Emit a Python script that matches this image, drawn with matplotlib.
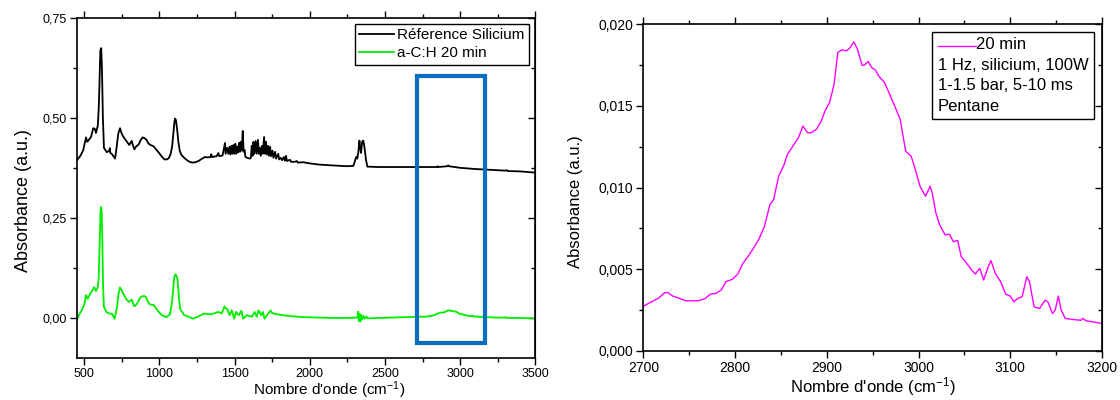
import matplotlib
matplotlib.use("Agg")
import matplotlib.pyplot as plt
import numpy as np
from matplotlib.patches import Rectangle
from matplotlib.lines import Line2D
from matplotlib.offsetbox import AnchoredOffsetbox, VPacker, HPacker, TextArea, DrawingArea
from matplotlib.ticker import MultipleLocator

plt.rcParams['font.family'] = ['Liberation Sans', 'DejaVu Sans']
plt.rcParams['mathtext.default'] = 'regular'

# ---------------- data ----------------
# Reference silicium spectrum (black)
black_x = [452, 476, 493, 512, 520, 527, 545, 560, 571, 578, 590, 596, 601, 607, 613, 618, 624, 631,
           650, 667, 670, 673, 683, 705, 715, 726, 738, 745, 752, 761, 780, 800, 812, 816, 825, 833,
           845, 863, 875, 888, 902, 916, 926, 940, 960, 985, 1000, 1018, 1034, 1049, 1062, 1075,
           1085, 1094, 1100, 1104, 1110, 1118, 1126, 1135, 1145, 1159, 1180, 1200, 1221, 1240,
           1260, 1280, 1303, 1320,
           1340, 1345, 1350, 1380, 1392, 1398, 1420, 1436, 1440, 1450, 1458, 1466, 1472, 1480, 1486,
           1492, 1498, 1505, 1510, 1515, 1522, 1530, 1536, 1542, 1548, 1554, 1560, 1566, 1572, 1585,
           1600, 1608, 1614, 1620, 1625, 1632, 1640, 1647, 1655, 1662, 1668, 1674, 1682, 1688, 1696,
           1702, 1708, 1714, 1722, 1728, 1736, 1742, 1752, 1758, 1769, 1776, 1790, 1796, 1807, 1815,
           1828, 1834, 1842, 1848, 1868, 1875, 1900, 1913, 1920, 1957, 2000, 2064,
           2150, 2250, 2290, 2308, 2316, 2323, 2330, 2335, 2341, 2348, 2356, 2364, 2374, 2383,
           2450, 2600, 2800, 2845, 2850, 2855, 2915, 2920, 2925, 3000, 3100, 3200, 3300, 3310,
           3315, 3400, 3500]
black_y = [0.394, 0.406, 0.419, 0.451, 0.440, 0.443, 0.452, 0.474, 0.472, 0.462, 0.480, 0.520,
           0.580, 0.668, 0.674, 0.620, 0.500, 0.425, 0.414, 0.418, 0.424, 0.412, 0.410, 0.398,
           0.425, 0.460, 0.474, 0.465, 0.458, 0.452, 0.442, 0.432, 0.440, 0.442, 0.430, 0.421,
           0.428, 0.434, 0.444, 0.451, 0.449, 0.444, 0.436, 0.432, 0.429, 0.418, 0.411, 0.402,
           0.396, 0.396, 0.399, 0.410, 0.430, 0.465, 0.490, 0.498, 0.494, 0.470, 0.440, 0.418,
           0.408, 0.402, 0.395, 0.390, 0.388, 0.389, 0.392, 0.397, 0.402, 0.401,
           0.402, 0.409, 0.402, 0.404, 0.412, 0.404, 0.406, 0.437, 0.410, 0.425, 0.410, 0.428,
           0.408, 0.430, 0.410, 0.432, 0.410, 0.435, 0.410, 0.428, 0.413, 0.438, 0.415, 0.440,
           0.418, 0.467, 0.415, 0.420, 0.402, 0.400, 0.398, 0.400, 0.430, 0.405, 0.440, 0.410,
           0.442, 0.410, 0.445, 0.410, 0.425, 0.405, 0.430, 0.410, 0.452, 0.410, 0.440, 0.408,
           0.430, 0.405, 0.428, 0.404, 0.418, 0.400, 0.415, 0.398, 0.410, 0.396, 0.400, 0.394,
           0.402, 0.393, 0.405, 0.392, 0.395, 0.390, 0.390, 0.392, 0.388, 0.389, 0.386, 0.383,
           0.381, 0.379, 0.380, 0.402, 0.398, 0.415, 0.443, 0.425, 0.412, 0.440, 0.443, 0.425,
           0.394, 0.378, 0.377, 0.377, 0.377, 0.377, 0.379, 0.377, 0.379, 0.381, 0.379, 0.375,
           0.372, 0.370, 0.368, 0.369, 0.367, 0.366, 0.363]

# a-C:H 20 min spectrum (green), low wavenumber part
green_x_low = [452, 464, 483, 500, 512, 524, 540, 555, 566, 578, 590, 596, 602, 608, 612, 616, 620,
               625, 631, 647, 666, 683, 702, 718, 728, 737, 745, 754, 778, 797, 816, 832, 848, 863,
               875, 887, 900, 911, 925, 935, 963, 987, 1015, 1046, 1070, 1082, 1089, 1098, 1106,
               1113, 1120, 1128, 1137, 1165, 1201, 1224, 1260, 1296, 1343, 1367,
               1391, 1414, 1433, 1440, 1450, 1467, 1481, 1497, 1509, 1528, 1545, 1557, 1581, 1616,
               1633, 1647, 1659, 1676, 1688, 1699, 1723, 1740, 1745, 1759, 1783, 1818, 1889, 1961,
               2050, 2150, 2250, 2310, 2317, 2322, 2326, 2331, 2336, 2341, 2347, 2356, 2365, 2375,
               2385, 2450, 2550, 2650]
green_y_low = [-0.005, 0.007, 0.019, 0.034, 0.057, 0.048, 0.061, 0.069, 0.077, 0.067, 0.077, 0.100,
               0.177, 0.265, 0.277, 0.265, 0.200, 0.080, 0.028, 0.015, 0.011, 0.011, -0.002, 0.028,
               0.060, 0.076, 0.072, 0.065, 0.048, 0.040, 0.046, 0.029, 0.034, 0.044, 0.052, 0.054,
               0.055, 0.052, 0.040, 0.034, 0.032, 0.019, 0.007, 0.002, 0.009, 0.035, 0.061, 0.100,
               0.109, 0.105, 0.098, 0.060, 0.023, 0.007, 0.002, -0.002, 0.004, 0.011, 0.009, 0.012,
               0.015, 0.011, 0.029, 0.024, 0.023, 0.007, 0.019, -0.002, 0.015, 0.007, 0.018, -0.002,
               0.007, 0.003, 0.015, 0.003, 0.019, 0.007, 0.015, -0.002, 0.011, 0.019, 0.014, 0.011,
               0.009, 0.007, 0.004, 0.002, 0.001, 0.000, 0.000, 0.001, 0.001, 0.016, -0.008, 0.010,
               -0.009, 0.008, -0.004, 0.005, -0.002, 0.004, -0.001, 0.000, 0.001, 0.002]

# C-H stretching region, 20 min (magenta, right panel)
ch_x = [2700, 2709, 2717, 2723, 2726.5, 2732, 2740, 2746, 2752, 2760, 2767.5, 2773, 2779, 2785,
        2790, 2797, 2803, 2808.5, 2814, 2820, 2826, 2832, 2838, 2842, 2847.5, 2853.5, 2857, 2863,
        2869, 2874, 2879, 2883, 2888.5, 2894, 2898, 2903, 2908, 2912, 2916.6, 2921.7, 2925.6,
        2929.5, 2933.4, 2938.5, 2941, 2945, 2949, 2953, 2957, 2963, 2968.5, 2974, 2980, 2986,
        2992, 2996, 3001.7, 3007.6, 3012.6, 3015, 3019, 3023, 3029, 3033.7, 3038, 3042.7,
        3046.6, 3052.5, 3058, 3062, 3066.8, 3071, 3076, 3079, 3083.7, 3089.5, 3095, 3100, 3104,
        3108, 3113, 3118, 3121, 3126, 3132, 3138, 3141, 3146, 3149, 3152.5, 3155.5, 3160,
        3169.5, 3177, 3179, 3183, 3191, 3200]
ch_y = [0.00274, 0.00301, 0.00325, 0.00356, 0.00358, 0.00336, 0.00321, 0.00307, 0.00307, 0.00307,
        0.00321, 0.00348, 0.00352, 0.00373, 0.00424, 0.00438, 0.00471, 0.00536, 0.00577, 0.00628,
        0.00684, 0.00762, 0.00895, 0.00925, 0.01069, 0.01140, 0.01202, 0.01253, 0.01304, 0.01376,
        0.01335, 0.01335, 0.01355, 0.01406, 0.01468, 0.01519, 0.01632, 0.01826, 0.01842, 0.01836,
        0.01857, 0.01891, 0.01846, 0.01748, 0.01748, 0.01771, 0.01734, 0.01718, 0.01679, 0.01642,
        0.01570, 0.01499, 0.01417, 0.01222, 0.01191, 0.01120, 0.01007, 0.00946, 0.01007, 0.00966,
        0.00843, 0.00772, 0.00710, 0.00714, 0.00669, 0.00676, 0.00577, 0.00536, 0.00495, 0.00471,
        0.00506, 0.00434, 0.00516, 0.00553, 0.00475, 0.00424, 0.00348, 0.00336, 0.00301, 0.00321,
        0.00332, 0.00454, 0.00424, 0.00270, 0.00260, 0.00311, 0.00301, 0.00229, 0.00250, 0.00336,
        0.00250, 0.00199, 0.00192, 0.00188, 0.00199, 0.00184, 0.00178, 0.00168]

green_x_high = [3250, 3300, 3305, 3310, 3400, 3500]
green_y_high = [0.001, 0.001, 0.002, 0.000, 0.000, -0.001]

green_x = green_x_low + ch_x + green_x_high
green_y = green_y_low + ch_y + green_y_high

# zoom box region (wavenumber range / absorbance range)
box_x = [2716, 3165]
box_y = [-0.062, 0.605]

left_yticks = [0.00, 0.25, 0.50, 0.75]
left_yticklabels = ['0,00', '0,25', '0,50', '0,75']
left_xticks = [500, 1000, 1500, 2000, 2500, 3000, 3500]
right_yticks = [0.000, 0.005, 0.010, 0.015, 0.020]
right_yticklabels = ['0,000', '0,005', '0,010', '0,015', '0,020']
right_xticks = [2700, 2800, 2900, 3000, 3100, 3200]

xlabel = "Nombre d'onde (cm$^{-1}$)"
ylabel = "Absorbance (a.u.)"

# ---------------- figure ----------------
fig = plt.figure(figsize=(11.2, 4.0), dpi=100)
ax1 = fig.add_axes([0.0685, 0.105, 0.4095, 0.8508])
ax2 = fig.add_axes([0.5744, 0.1225, 0.4095, 0.8175])


def style_axes(ax, tick_fs):
    for s in ax.spines.values():
        s.set_linewidth(1.2)
    ax.tick_params(axis='x', which='both', direction='out', top=True, bottom=True,
                   labelsize=tick_fs, width=1.0, pad=2)
    ax.tick_params(axis='x', which='major', length=5)
    ax.tick_params(axis='x', which='minor', length=3)
    ax.tick_params(axis='y', which='both', direction='out', left=True, right=False,
                   labelsize=tick_fs, width=1.0, pad=2)
    ax.tick_params(axis='y', which='major', length=5)
    ax.tick_params(axis='y', which='minor', length=3)
    sec = ax.secondary_yaxis('right')
    sec.tick_params(axis='y', which='both', direction='in', labelright=False, width=1.0)
    sec.tick_params(axis='y', which='major', length=5)
    sec.tick_params(axis='y', which='minor', length=3)
    return sec


# Left panel
ax1.plot(black_x, black_y, color='black', lw=1.3, label='Réference Silicium')
ax1.plot(green_x, green_y, color='#00ee00', lw=1.3, label='a-C:H 20 min')
ax1.add_patch(Rectangle((box_x[0], box_y[0]), box_x[1] - box_x[0], box_y[1] - box_y[0],
                        fill=False, edgecolor='#0a6dbf', lw=3.0, zorder=5))
ax1.set_xlim(450, 3500)
ax1.set_ylim(-0.1, 0.75)
ax1.set_xticks(left_xticks)
ax1.set_yticks(left_yticks)
ax1.set_yticklabels(left_yticklabels)
ax1.xaxis.set_minor_locator(MultipleLocator(250))
ax1.yaxis.set_minor_locator(MultipleLocator(0.125))
sec1 = style_axes(ax1, 9)
sec1.set_yticks(left_yticks)
sec1.yaxis.set_minor_locator(MultipleLocator(0.125))
ax1.set_xlabel(xlabel, fontsize=11, labelpad=0)
ax1.set_ylabel(ylabel, fontsize=13, labelpad=8)
ax1.xaxis.label.set_x(0.55)
ax1.yaxis.label.set_y(0.464)
leg = ax1.legend(loc='upper right', fontsize=11, frameon=True, fancybox=False,
                 edgecolor='black', framealpha=1, handlelength=2.3, handletextpad=0.2,
                 borderaxespad=0.4, borderpad=0.3, labelspacing=0.25)
leg.get_frame().set_linewidth(1.0)

# Right panel
ax2.plot(ch_x, ch_y, color='#ff00ff', lw=1.0)
ax2.set_xlim(2700, 3200)
ax2.set_ylim(0, 0.020)
ax2.set_xticks(right_xticks)
ax2.set_yticks(right_yticks)
ax2.set_yticklabels(right_yticklabels)
ax2.xaxis.set_minor_locator(MultipleLocator(50))
ax2.yaxis.set_minor_locator(MultipleLocator(0.0025))
sec2 = style_axes(ax2, 10)
sec2.set_yticks(right_yticks)
sec2.yaxis.set_minor_locator(MultipleLocator(0.0025))
ax2.set_xlabel(xlabel, fontsize=12, labelpad=0)
ax2.set_ylabel(ylabel, fontsize=12, labelpad=11)
ax2.yaxis.label.set_y(0.456)

# custom legend box for right panel
da = DrawingArea(27, 10, 0, 0)
da.add_artist(Line2D([0, 27], [4, 4], color='#ff00ff', lw=1.0))
tp = dict(fontsize=12)
row0 = HPacker(children=[da, TextArea('20 min', textprops=tp)], align='center', pad=0, sep=0)
rows = [row0,
        TextArea('1 Hz, silicium, 100W', textprops=tp),
        TextArea('1-1.5 bar, 5-10 ms', textprops=tp),
        TextArea('Pentane', textprops=tp)]
vp = VPacker(children=rows, align='left', pad=0, sep=4)
ab = AnchoredOffsetbox(loc='upper right', child=vp, pad=0.4, borderpad=0.55, frameon=True)
ab.patch.set_boxstyle('square,pad=0')
ab.patch.set_edgecolor('black')
ab.patch.set_linewidth(1.0)
ax2.add_artist(ab)

fig.savefig('out.png', dpi=100)
